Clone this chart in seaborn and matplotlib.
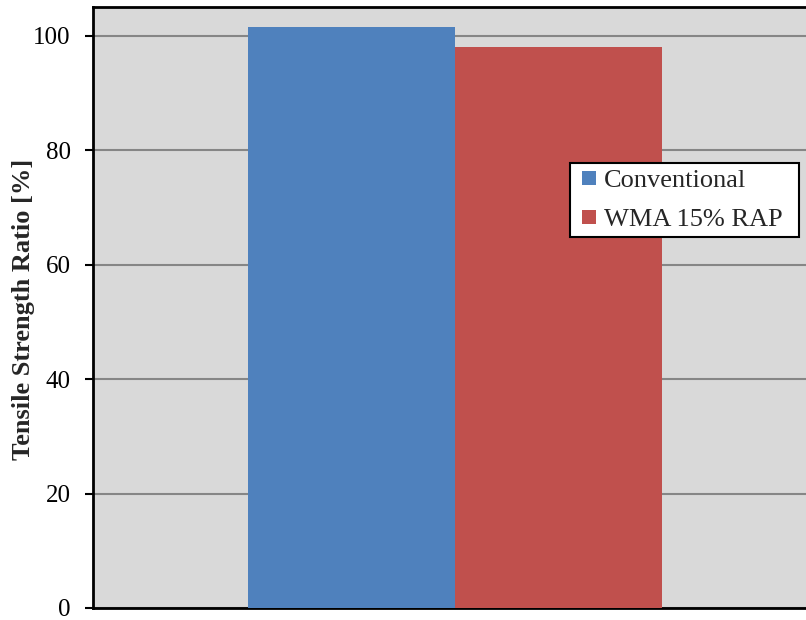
import matplotlib
matplotlib.use("Agg")
import matplotlib.pyplot as plt
from matplotlib.lines import Line2D
import seaborn as sns
import pandas as pd

# Tensile strength ratio per mix
categories = ["TSR"]
series = ["Conventional", "WMA 15% RAP"]
values = [101.5, 98.0]
colors = ["#4F81BD", "#C0504D"]
yticks = [0, 20, 40, 60, 80, 100]

df = pd.DataFrame({"cat": categories * len(series), "series": series, "value": values})

sns.set_theme(style="white")
plt.rcParams["font.family"] = ["Liberation Serif", "DejaVu Serif"]

fig = plt.figure(figsize=(8.06, 6.2), dpi=100)
W, H = 806, 620
left, right, top, bottom = 93, 817, 7, 608
ax = fig.add_axes([left / W, 1 - bottom / H, (right - left) / W, (bottom - top) / H])

sns.barplot(data=df, x="cat", y="value", hue="series", palette=colors,
            width=0.572, dodge=True, ax=ax, saturation=1, errorbar=None,
            linewidth=0, zorder=3, legend=False)

ax.set_facecolor("#D9D9D9")
ax.set_xlim(-0.5, 0.5)
ax.set_ylim(0, 105)
ax.set_yticks(yticks)
ax.set_yticklabels([str(t) for t in yticks], fontsize=18)
ax.set_xticks([])
ax.set_xlabel("")
ax.set_ylabel("Tensile Strength Ratio [%]", fontsize=19, fontweight="bold")
ax.yaxis.set_label_coords((35 - left) / (right - left), 0.497)
ax.grid(axis="y", color="#868686", linewidth=1.5, zorder=0)
ax.set_axisbelow(True)
ax.tick_params(axis="y", direction="out", length=6, width=1.5, color="black",
               left=True, pad=10, labelcolor="black")

for side in ["left", "bottom", "top"]:
    ax.spines[side].set_visible(True)
    ax.spines[side].set_color("black")
    ax.spines[side].set_linewidth(2)
ax.spines["right"].set_visible(False)

# square legend keys
handles = [Line2D([], [], linestyle="none", marker="s", markersize=10,
                  markerfacecolor=c, markeredgewidth=0) for c in colors]
leg_w, leg_h = 229, 75
leg = fig.legend(handles, series, loc="upper left",
                 bbox_to_anchor=(570 / W, 1 - (163 + leg_h) / H, leg_w / W, leg_h / H),
                 bbox_transform=fig.transFigure, mode="expand",
                 fontsize=19, frameon=True, fancybox=False, framealpha=1,
                 handlelength=1.0, handletextpad=0.05,
                 borderpad=0.22, labelspacing=0.58, borderaxespad=0)
leg.get_frame().set_edgecolor("black")
leg.get_frame().set_linewidth(1.5)
leg.get_frame().set_facecolor("white")

fig.savefig("out.png", dpi=100)
